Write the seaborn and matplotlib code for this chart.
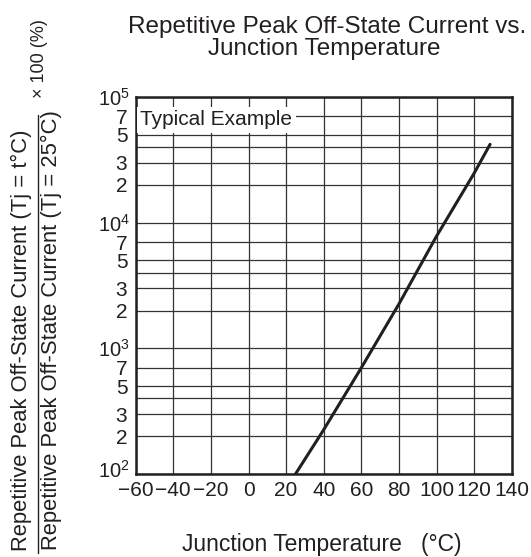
import numpy as np
import pandas as pd
import matplotlib
matplotlib.use('Agg')
import matplotlib.pyplot as plt
import matplotlib.transforms as mtransforms
import seaborn as sns
from matplotlib.lines import Line2D

# values
temp_c = [25, 40, 60, 80, 100, 120, 128.5]
ratio_pct = [100, 225, 700, 2250, 7800, 24700, 42000]

x_ticks = [-60, -40, -20, 0, 20, 40, 60, 80, 100, 120, 140]
x_labels = ['\u221260', '\u221240', '\u221220', '0', '20', '40', '60', '80', '100', '120', '140']
decades = [1e2, 1e3, 1e4, 1e5]
minor_mult = [2, 3, 4, 5, 7]
minor_shown = [2, 3, 5, 7]

sns.set_theme(style='white')
plt.rcParams['font.family'] = ['Liberation Sans', 'DejaVu Sans']
plt.rcParams['mathtext.fontset'] = 'custom'
plt.rcParams['mathtext.rm'] = 'Liberation Sans'

ink = '#231f20'
df = pd.DataFrame({'temp': temp_c, 'ratio': ratio_pct})

fig = plt.figure(figsize=(5.31, 5.57), dpi=100)
ax = fig.add_axes([135.7 / 531, 83 / 557, 376 / 531, 377 / 557])

sns.lineplot(data=df, x='temp', y='ratio', ax=ax, color=ink, lw=2.2, zorder=3)

ax.set_yscale('log')
ax.set_xlim(-60, 140)
ax.set_ylim(1e2, 1e5)

ax.set_xticks(x_ticks)
ax.set_xticklabels(x_labels, fontsize=15, color=ink)

ax.set_yticks(decades)
ax.set_yticklabels([r'$\mathregular{10^{%d}}$' % int(np.log10(d)) for d in decades],
                   fontsize=14.5, color=ink)
minor_pos = []
minor_lab = []
for d in decades[:-1]:
    for m in minor_mult:
        minor_pos.append(d * m)
        minor_lab.append(str(m) if m in minor_shown else '')
ax.set_yticks(minor_pos, minor=True)
ax.set_yticklabels(minor_lab, minor=True, fontsize=15, color=ink)

ax.tick_params(axis='both', which='both', length=0)
ax.tick_params(axis='x', pad=5)
ax.tick_params(axis='y', which='major', pad=4)
ax.tick_params(axis='y', which='minor', pad=6)

# lift the bottom "10^2" a little so it clears the -60 label, like the datasheet
lift = mtransforms.ScaledTranslation(0, 3.5 / 72, fig.dpi_scale_trans)
lab0 = ax.yaxis.get_major_ticks()[0].label1
lab0.set_transform(lab0.get_transform() + lift)

ax.grid(True, which='both', color='#333333', lw=0.9)
for s in ax.spines.values():
    s.set_color(ink)
    s.set_linewidth(1.8)
ax.set_xlabel('')
ax.set_ylabel('')

ax.text(-57.5, 10 ** 4.82, 'Typical Example', fontsize=15, color=ink,
        ha='left', va='center', zorder=4,
        bbox=dict(facecolor='white', edgecolor='none', pad=2.5))

# title
fig.text(327.5 / 531, 1 - 33 / 557, 'Repetitive Peak Off-State Current vs.',
         fontsize=17.5, color=ink, ha='center', va='baseline')
fig.text(324 / 531, 1 - 55.5 / 557, 'Junction Temperature',
         fontsize=17.5, color=ink, ha='center', va='baseline')

# x label
fig.text(322 / 531, 1 - 545 / 557, 'Junction Temperature   (\u00b0C)',
         fontsize=16.5, color=ink, ha='center', va='center')

# y label as a fraction
fig.text(21 / 531, 1 - 340.5 / 557, 'Repetitive Peak Off-State Current (Tj = t\u00b0C)',
         fontsize=15.8, color=ink, rotation=90, ha='center', va='center')
fig.text(51.5 / 531, 1 - 330 / 557, 'Repetitive Peak Off-State Current (Tj = 25\u00b0C)',
         fontsize=15.8, color=ink, rotation=90, ha='center', va='center')
fig.add_artist(Line2D([37.7 / 531, 37.7 / 531], [1 - 115 / 557, 1 - 553 / 557],
                      transform=fig.transFigure, color=ink, lw=1.0))
fig.text(40 / 531, 1 - 59 / 557, '\u00d7 100 (%)',
         fontsize=13, color=ink, rotation=90, ha='center', va='center')

fig.savefig('out.png', dpi=100)
plt.close(fig)
